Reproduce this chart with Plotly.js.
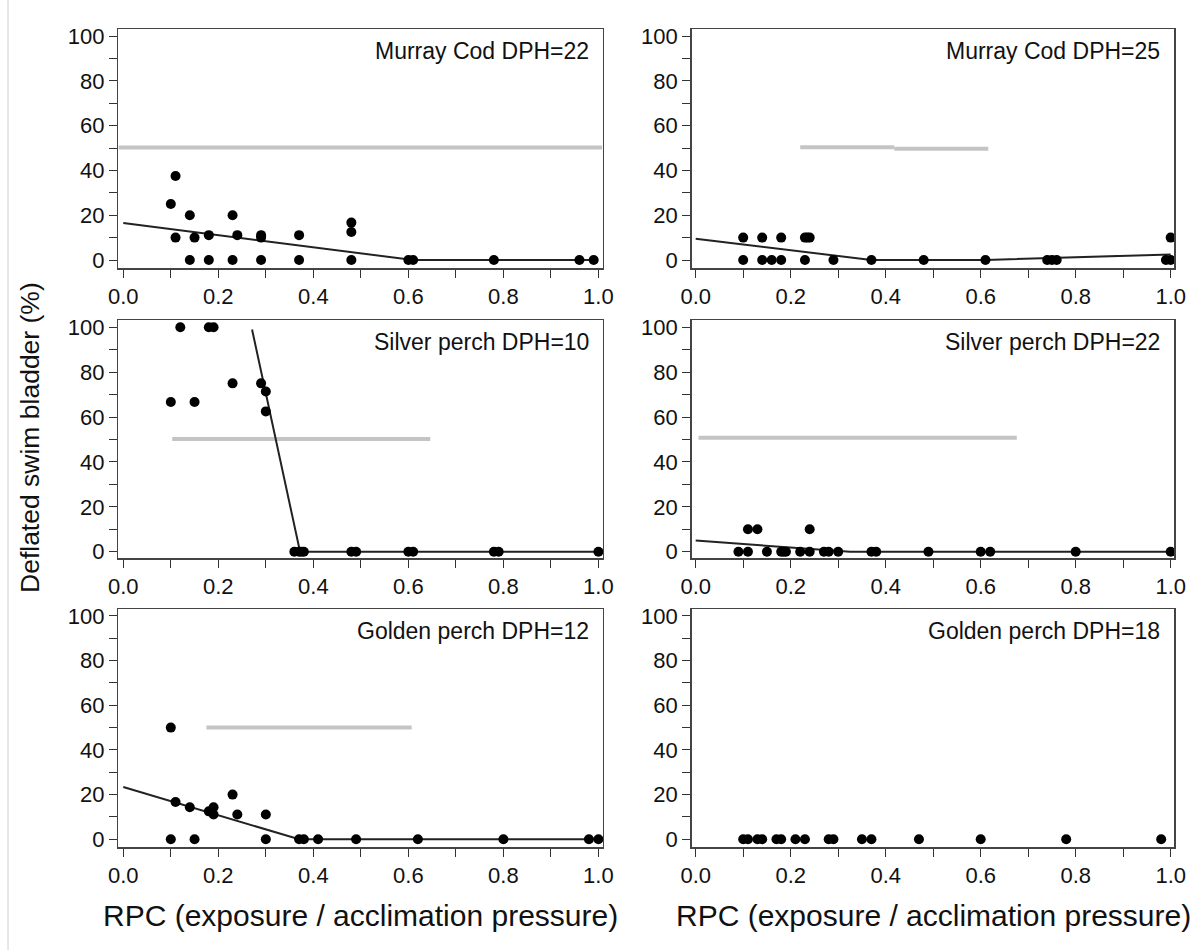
<!DOCTYPE html>
<html><head><meta charset="utf-8">
<script src="https://cdn.plot.ly/plotly-3.0.1.min.js"></script>
<style>html,body{margin:0;padding:0;background:#fff}#chart{width:1198px;height:950px}</style>
</head><body><div id="chart"></div><script>
// Panel labels
const panelTitles = ["Murray Cod DPH=22", "Murray Cod DPH=25", "Silver perch DPH=10", "Silver perch DPH=22", "Golden perch DPH=12", "Golden perch DPH=18"];
const xTitle = "RPC (exposure / acclimation pressure)";
const yTitle = "Deflated swim bladder (%)";

// Murray Cod DPH=22
const mc22X = [0.10, 0.11, 0.11, 0.14, 0.14, 0.15, 0.18, 0.18, 0.23, 0.23, 0.24, 0.29, 0.29, 0.29, 0.37, 0.37, 0.48, 0.48, 0.48, 0.60, 0.61, 0.78, 0.96, 0.99];
const mc22Y = [25, 37.5, 10, 20, 0, 10, 11.1, 0, 20, 0, 11.1, 11.1, 10, 0, 11.1, 0, 16.7, 12.5, 0, 0, 0, 0, 0, 0];
const mc22FitX = [0, 0.61, 0.99];
const mc22FitY = [16.5, 0, 0];
const mc22RefX = [-0.01, 1.008];
const mc22RefY = [50.2, 50.2];

// Murray Cod DPH=25
const mc25X = [0.10, 0.10, 0.14, 0.14, 0.16, 0.18, 0.18, 0.23, 0.23, 0.235, 0.24, 0.29, 0.37, 0.48, 0.61, 0.74, 0.75, 0.76, 0.99, 1.0, 1.0];
const mc25Y = [10, 0, 10, 0, 0, 10, 0, 10, 0, 10, 10, 0, 0, 0, 0, 0, 0, 0, 0, 10, 0];
const mc25FitX = [0, 0.37, 0.61, 1.0];
const mc25FitY = [9.5, 0, 0, 2.5];
const mc25RefX = [0.22, 0.418, null, 0.418, 0.616];
const mc25RefY = [50.3, 50.3, null, 49.7, 49.7];

// Silver perch DPH=10
const sp10X = [0.10, 0.12, 0.15, 0.18, 0.19, 0.23, 0.29, 0.30, 0.30, 0.36, 0.37, 0.375, 0.38, 0.48, 0.49, 0.60, 0.61, 0.78, 0.79, 1.0];
const sp10Y = [66.7, 100, 66.7, 100, 100, 75, 75, 71.4, 62.5, 0, 0, 0, 0, 0, 0, 0, 0, 0, 0, 0];
const sp10FitX = [0.271, 0.372, 1.0];
const sp10FitY = [99, 0, 0];
const sp10RefX = [0.103, 0.646];
const sp10RefY = [50.2, 50.2];

// Silver perch DPH=22
const sp22X = [0.09, 0.11, 0.11, 0.13, 0.15, 0.18, 0.185, 0.19, 0.22, 0.24, 0.24, 0.27, 0.28, 0.30, 0.37, 0.38, 0.49, 0.60, 0.62, 0.80, 1.0];
const sp22Y = [0, 10, 0, 10, 0, 0, 0, 0, 0, 10, 0, 0, 0, 0, 0, 0, 0, 0, 0, 0, 0];
const sp22FitX = [0, 0.325, 1.0];
const sp22FitY = [5.0, 0, 0];
const sp22RefX = [0.006, 0.676];
const sp22RefY = [50.8, 50.8];

// Golden perch DPH=12
const gp12X = [0.10, 0.10, 0.11, 0.14, 0.15, 0.18, 0.19, 0.19, 0.23, 0.24, 0.30, 0.30, 0.37, 0.38, 0.41, 0.49, 0.62, 0.80, 0.98, 1.0];
const gp12Y = [50, 0, 16.7, 14.3, 0, 12.5, 14.3, 11.1, 20, 11.1, 11.1, 0, 0, 0, 0, 0, 0, 0, 0, 0];
const gp12FitX = [0, 0.37, 1.0];
const gp12FitY = [23.4, 0, 0];
const gp12RefX = [0.175, 0.607];
const gp12RefY = [50, 50];

// Golden perch DPH=18
const gp18X = [0.10, 0.11, 0.13, 0.14, 0.17, 0.18, 0.21, 0.23, 0.28, 0.29, 0.35, 0.37, 0.47, 0.60, 0.78, 0.98];
const gp18Y = [0, 0, 0, 0, 0, 0, 0, 0, 0, 0, 0, 0, 0, 0, 0, 0];

const W = 1198, H = 950;
const FONT = "Arial, 'Liberation Sans', sans-serif";

// panel frames in pixels: [left, right], [top, bottom]
const colPx = [[118.3, 602.7], [691.7, 1174.3]];
const rowPx = [[29.3, 268.3], [320, 558.3], [609, 847.3]];
const xRanges = [[-0.0105, 1.009], [-0.0084, 1.0076]];
const yRanges = [[-3.7, 103], [-2.9, 103.2], [-3.6, 103.1]];

const panels = [
  {pts: [mc22X, mc22Y], fit: [mc22FitX, mc22FitY], ref: [mc22RefX, mc22RefY]},
  {pts: [mc25X, mc25Y], fit: [mc25FitX, mc25FitY], ref: [mc25RefX, mc25RefY]},
  {pts: [sp10X, sp10Y], fit: [sp10FitX, sp10FitY], ref: [sp10RefX, sp10RefY]},
  {pts: [sp22X, sp22Y], fit: [sp22FitX, sp22FitY], ref: [sp22RefX, sp22RefY]},
  {pts: [gp12X, gp12Y], fit: [gp12FitX, gp12FitY], ref: [gp12RefX, gp12RefY]},
  {pts: [gp18X, gp18Y], fit: null, ref: null}
];

const traces = [];
const layout = {
  width: W, height: H, autosize: false,
  margin: {l: 0, r: 0, t: 0, b: 0, pad: 0},
  paper_bgcolor: '#fff', plot_bgcolor: '#fff',
  showlegend: false,
  font: {family: FONT, color: '#111'},
  annotations: [],
  shapes: [
    {type: 'line', xref: 'paper', yref: 'paper', x0: 8 / W, x1: 8 / W, y0: 0, y1: 1, line: {color: '#d0d0d0', width: 1}}
  ]
};

panels.forEach((p, i) => {
  const r = Math.floor(i / 2), c = i % 2;
  const sfx = i === 0 ? '' : String(i + 1);
  const xa = 'x' + sfx, ya = 'y' + sfx;
  if (p.ref) traces.push({x: p.ref[0], y: p.ref[1], xaxis: xa, yaxis: ya, mode: 'lines', line: {color: '#c4c4c4', width: 4}, hoverinfo: 'skip', connectgaps: false});
  if (p.fit) traces.push({x: p.fit[0], y: p.fit[1], xaxis: xa, yaxis: ya, mode: 'lines', line: {color: '#222', width: 2}, hoverinfo: 'skip'});
  traces.push({x: p.pts[0], y: p.pts[1], xaxis: xa, yaxis: ya, mode: 'markers', marker: {color: '#000', size: 10}, cliponaxis: false});

  const [l, rt] = colPx[c];
  const [t, b] = rowPx[r];
  layout['xaxis' + sfx] = {
    domain: [l / W, rt / W], anchor: ya, range: xRanges[c],
    tick0: 0, dtick: 0.2, tickformat: '.1f',
    ticks: 'outside', ticklen: 8, tickwidth: 1, tickcolor: '#333',
    minor: {tick0: 0, dtick: 0.1, ticks: 'outside', ticklen: 8, tickwidth: 1, tickcolor: '#333', showgrid: false},
    showline: true, mirror: true, linecolor: '#444', linewidth: 1.5,
    showgrid: false, zeroline: false, automargin: false,
    tickfont: {family: FONT, size: 22, color: '#111'}
  };
  layout['yaxis' + sfx] = {
    domain: [1 - b / H, 1 - t / H], anchor: xa, range: yRanges[r],
    tick0: 0, dtick: 20,
    ticks: 'outside', ticklen: 8, tickwidth: 1, tickcolor: '#333',
    minor: {tick0: 0, dtick: 10, ticks: 'outside', ticklen: 8, tickwidth: 1, tickcolor: '#333', showgrid: false},
    showline: true, mirror: true, linecolor: '#444', linewidth: 1.5,
    showgrid: false, zeroline: false, automargin: false,
    tickfont: {family: FONT, size: 22, color: '#111'}
  };
  layout.annotations.push({
    text: panelTitles[i], xref: 'paper', yref: 'paper',
    x: (rt - 12) / W, y: 1 - (t + 22) / H, xanchor: 'right', yanchor: 'middle',
    showarrow: false, font: {family: FONT, size: 23, color: '#111'}
  });
});

// x axis titles under bottom row
colPx.forEach(([l, rt]) => {
  layout.annotations.push({
    text: xTitle, xref: 'paper', yref: 'paper',
    x: ((l + rt) / 2) / W, y: 1 - 915 / H, xanchor: 'center', yanchor: 'middle',
    showarrow: false, font: {family: FONT, size: 30, color: '#111'}
  });
});
// y axis title
layout.annotations.push({
  text: yTitle, xref: 'paper', yref: 'paper',
  x: 30 / W, y: 1 - 438 / H, xanchor: 'center', yanchor: 'middle', textangle: -90,
  showarrow: false, font: {family: FONT, size: 26.5, color: '#111'}
});

Plotly.newPlot('chart', traces, layout, {displayModeBar: false, staticPlot: true});
</script></body></html>
